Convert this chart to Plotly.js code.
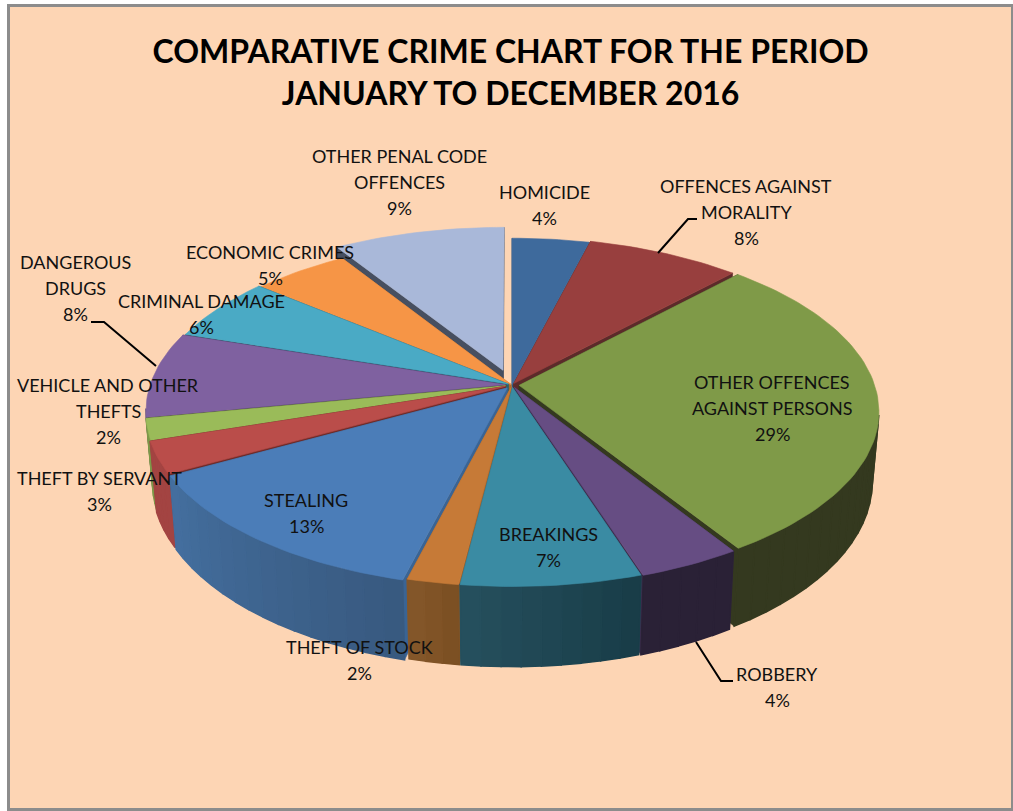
<!DOCTYPE html>
<html>
<head>
<meta charset="utf-8">
<script src="https://cdn.plot.ly/plotly-3.0.1.min.js"></script>
<style>html,body{margin:0;padding:0;background:#fff}#chart{width:1013px;height:811px}</style>
</head>
<body>
<div id="chart"></div>
<script>
// Crime categories and their share of the total, clockwise from twelve o'clock
const categories = ['HOMICIDE', 'OFFENCES AGAINST|MORALITY', 'OTHER OFFENCES|AGAINST PERSONS', 'ROBBERY',
  'BREAKINGS', 'THEFT OF STOCK', 'STEALING', 'THEFT BY SERVANT', 'VEHICLE AND OTHER|THEFTS',
  'DANGEROUS|DRUGS', 'CRIMINAL DAMAGE', 'ECONOMIC CRIMES', 'OTHER PENAL CODE|OFFENCES'];
const shares = [4, 8, 29, 4, 7, 2, 13, 3, 2, 8, 6, 5, 9];

// Slice styling
const topColors = ['#3E6A9C', '#983F3E', '#7F9A48', '#664D83', '#3A8BA3', '#C67A37', '#4B7DB8',
  '#BA4D4A', '#9ABB59', '#7F61A0', '#4AAAC5', '#F69546', '#A9B8D9'];
const wallStart = ['#2F5177', '#5C2A2A', '#34391F', '#2A2136', '#183C47', '#7A4E22', '#38597F',
  '#A34442', '#7D9848', '#5A4573', '#35788C', '#B06A30', '#474F60'];
const wallEnd = ['#2F5177', '#5C2A2A', '#34391F', '#2A2136', '#26505E', '#85572A', '#446F9F',
  '#A34442', '#7D9848', '#5A4573', '#35788C', '#B06A30', '#474F60'];
const edgeColors = ['#2F5177', '#5C2A2A', '#34391F', '#3E2F50', '#2A6373', '#A5652D', '#3A6494',
  '#6E2B29', '#55692F', '#3F3055', '#2A6070', '#A86A30', '#474F60'];
const explode = [0.002, 0.01, 0.02, 0.016, 0.014, 0.014, 0.022, 0.02, 0.018, 0.018, 0.012, 0.004, 0.092];

// Label placement: centre x and the y of each text line
const labelX = [544, 746, 772, 777, 548, 359, 306, 99, 108, 75, 201, 270, 399];
const labelY = [192, 186, 382, 674, 534, 647, 500, 478, 385, 262, 301, 252, 156];
const labelLineGap = 26;

// Camera model for the tilted disc
const CX = 512, CY = 385, RX = 355.5, RZ = 168.5, PERSP = 0.15, DEPTH = 68, BASE_SHRINK = 0.982;

function project(xw, zw, lower) {
  const w = 1 + PERSP * zw;
  let x = RX * xw / w;
  let y = -RZ * zw / w;
  if (lower) { x *= BASE_SHRINK; y += DEPTH / w; }
  return [CX + x, CY + y];
}
const rad = d => d * Math.PI / 180;
function hex2rgb(h) { return [1, 3, 5].map(i => parseInt(h.substr(i, 2), 16)); }
function mix(a, b, t) {
  const A = hex2rgb(a), B = hex2rgb(b);
  return 'rgb(' + A.map((v, i) => Math.round(v + (B[i] - v) * t)).join(',') + ')';
}
function polygon(pts, color, lineWidth) {
  const closed = pts.concat([pts[0]]);
  return {
    type: 'scatter', mode: 'lines', x: closed.map(p => p[0]), y: closed.map(p => p[1]),
    fill: 'toself', fillcolor: color, line: {color: color, width: lineWidth},
    hoverinfo: 'skip', showlegend: false
  };
}

const total = shares.reduce((s, v) => s + v, 0);
let cumulative = 0;
const slices = shares.map((v, i) => {
  const a0 = cumulative / total * 360;
  cumulative += v;
  return {i, a0, a1: cumulative / total * 360};
});
// Paint back to front so nearer slices overlap farther ones
const order = slices.slice().sort((p, q) =>
  Math.cos(rad((q.a0 + q.a1) / 2)) - Math.cos(rad((p.a0 + p.a1) / 2)));

const traces = [];
order.forEach(s => {
  const mid = rad((s.a0 + s.a1) / 2), e = explode[s.i];
  const ox = e * Math.sin(mid), oz = e * Math.cos(mid);
  const rim = (deg, lower) => project(ox + Math.sin(rad(deg)), oz + Math.cos(rad(deg)), lower);
  const apexTop = project(ox, oz, false), apexLow = project(ox, oz, true);
  // Cut faces
  traces.push(polygon([apexTop, rim(s.a0, false), rim(s.a0, true), apexLow], edgeColors[s.i], 0.6));
  traces.push(polygon([apexTop, rim(s.a1, false), rim(s.a1, true), apexLow], edgeColors[s.i], 0.6));
  // Curved outer wall, shaded strip by strip; the far part of the rim hides its wall
  const n = Math.max(2, Math.ceil((s.a1 - s.a0) / 3));
  for (let k = 0; k < n; k++) {
    const p = s.a0 + (s.a1 - s.a0) * k / n, q = s.a0 + (s.a1 - s.a0) * (k + 1) / n;
    if (Math.cos(rad((p + q) / 2)) > -PERSP) continue;
    traces.push(polygon([rim(p, false), rim(q, false), rim(q, true), rim(p, true)],
      mix(wallStart[s.i], wallEnd[s.i], (k + 0.5) / n), 1.5));
  }
  // Top face
  const face = [apexTop];
  const m = Math.ceil((s.a1 - s.a0) / 1.5);
  for (let k = 0; k <= m; k++) face.push(rim(s.a0 + (s.a1 - s.a0) * k / m, false));
  traces.push(polygon(face, topColors[s.i], 0.6));
});

// Data labels, one annotation per text line
const annotations = [];
categories.forEach((name, i) => {
  name.split('|').concat([shares[i] + '%']).forEach((line, j) => {
    annotations.push({
      x: labelX[i], y: labelY[i] + j * labelLineGap, xref: 'x', yref: 'y',
      text: line, showarrow: false, xanchor: 'center', yanchor: 'middle',
      font: {family: 'Lato, sans-serif', size: 18, color: '#111'}
    });
  });
});

// Leader lines and the chart frame
const leader = d => ({type: 'path', path: d, xref: 'x', yref: 'y', line: {color: '#000', width: 2}});
const shapes = [
  {type: 'rect', xref: 'x', yref: 'y', x0: 8.5, y0: 5.5, x1: 1012.5, y1: 809.5, layer: 'below',
   fillcolor: '#FDD5B4', line: {color: '#8C8C8C', width: 3}},
  leader('M658,253 L688,219 L697,219'),
  leader('M91,322 L104,322 L156,366'),
  leader('M696,642 L721,681 L733,681')
];

Plotly.newPlot('chart', traces, {
  width: 1013, height: 811, margin: {l: 0, r: 0, t: 0, b: 0},
  paper_bgcolor: '#fff', plot_bgcolor: 'rgba(0,0,0,0)', showlegend: false, hovermode: false,
  xaxis: {range: [0, 1013], visible: false, fixedrange: true},
  yaxis: {range: [811, 0], visible: false, fixedrange: true},
  title: {
    text: 'COMPARATIVE CRIME CHART FOR THE PERIOD<br>JANUARY TO DECEMBER 2016',
    x: 0.504, xanchor: 'center', xref: 'paper', y: 0.922, yanchor: 'top', yref: 'container',
    font: {family: 'Lato, sans-serif', size: 32, color: '#000', weight: 700}
  },
  annotations, shapes
}, {staticPlot: true, displayModeBar: false});
</script>
</body>
</html>
